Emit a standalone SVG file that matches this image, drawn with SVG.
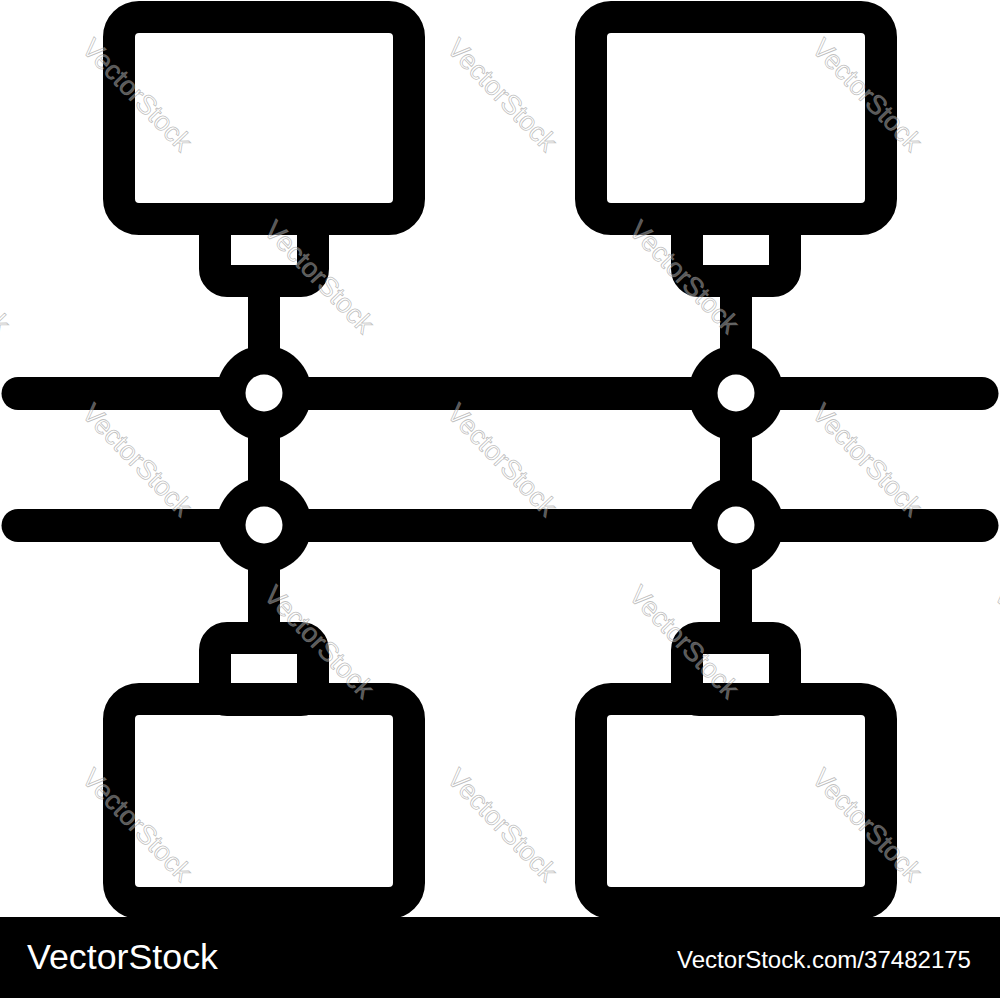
<svg xmlns="http://www.w3.org/2000/svg" width="1000" height="998" viewBox="0 0 1000 998">
<style>
.frame{fill:none;stroke:#000;stroke-width:32}
.bus{fill:none;stroke:#000;stroke-width:33;stroke-linecap:round}
.stem{fill:none;stroke:#000;stroke-width:32}
.hub{fill:#000}
.hole{fill:#fff}
.wm{font-family:"Liberation Sans",Arial,sans-serif;font-size:27px;fill:#fff;fill-opacity:0.35;stroke:#8a8a8a;stroke-opacity:0.55;stroke-width:0.8;text-anchor:middle}
.bar{font-family:"Liberation Sans",Arial,sans-serif;fill:#fff}
</style>
<rect width="1000" height="998" fill="#fff"/>
<g id="connectors">
<line class="stem" x1="264" y1="281" x2="264" y2="640"/>
<line class="stem" x1="736" y1="281" x2="736" y2="640"/>
<line class="bus" x1="18" y1="393.5" x2="982" y2="393.5"/>
<line class="bus" x1="18" y1="525.5" x2="982" y2="525.5"/>
</g>
<g id="hub-top-left"><circle class="hub" cx="264" cy="393" r="47.5"/><circle class="hole" cx="264" cy="393" r="18.5"/></g>
<g id="hub-bottom-left"><circle class="hub" cx="264" cy="525" r="47.5"/><circle class="hole" cx="264" cy="525" r="18.5"/></g>
<g id="hub-top-right"><circle class="hub" cx="736" cy="393" r="47.5"/><circle class="hole" cx="736" cy="393" r="18.5"/></g>
<g id="hub-bottom-right"><circle class="hub" cx="736" cy="525" r="47.5"/><circle class="hole" cx="736" cy="525" r="18.5"/></g>
<g id="monitor-top-left">
<rect class="frame" x="215" y="219" width="98" height="62" rx="12"/>
<rect class="frame" x="119" y="17" width="290" height="202" rx="20"/>
</g>
<g id="monitor-top-right">
<rect class="frame" x="687" y="219" width="98" height="62" rx="12"/>
<rect class="frame" x="591" y="17" width="290" height="202" rx="20"/>
</g>
<g id="monitor-bottom-left">
<rect class="frame" x="215" y="638" width="98" height="62" rx="12"/>
<rect class="frame" x="119" y="699" width="290" height="204" rx="20"/>
</g>
<g id="monitor-bottom-right">
<rect class="frame" x="687" y="638" width="98" height="62" rx="12"/>
<rect class="frame" x="591" y="699" width="290" height="204" rx="20"/>
</g>
<g id="watermark">
<text class="wm" transform="translate(137,95) rotate(46)" y="9">VectorStock</text>
<text class="wm" transform="translate(502,95) rotate(46)" y="9">VectorStock</text>
<text class="wm" transform="translate(867,95) rotate(46)" y="9">VectorStock</text>
<text class="wm" transform="translate(-45,277) rotate(46)" y="9">VectorStock</text>
<text class="wm" transform="translate(319,277) rotate(46)" y="9">VectorStock</text>
<text class="wm" transform="translate(684,277) rotate(46)" y="9">VectorStock</text>
<text class="wm" transform="translate(137,460) rotate(46)" y="9">VectorStock</text>
<text class="wm" transform="translate(502,460) rotate(46)" y="9">VectorStock</text>
<text class="wm" transform="translate(867,460) rotate(46)" y="9">VectorStock</text>
<text class="wm" transform="translate(319,642) rotate(46)" y="9">VectorStock</text>
<text class="wm" transform="translate(684,642) rotate(46)" y="9">VectorStock</text>
<text class="wm" transform="translate(1049,642) rotate(46)" y="9">VectorStock</text>
<text class="wm" transform="translate(137,825) rotate(46)" y="9">VectorStock</text>
<text class="wm" transform="translate(502,825) rotate(46)" y="9">VectorStock</text>
<text class="wm" transform="translate(867,825) rotate(46)" y="9">VectorStock</text>
</g>
<g id="footer">
<rect x="0" y="917" width="1000" height="81" fill="#000"/>
<text class="bar" x="27" y="969" font-size="35" textLength="191" lengthAdjust="spacingAndGlyphs">VectorStock</text>
<text class="bar" x="677" y="968" font-size="24" textLength="294" lengthAdjust="spacingAndGlyphs">VectorStock.com/37482175</text>
</g>
</svg>
